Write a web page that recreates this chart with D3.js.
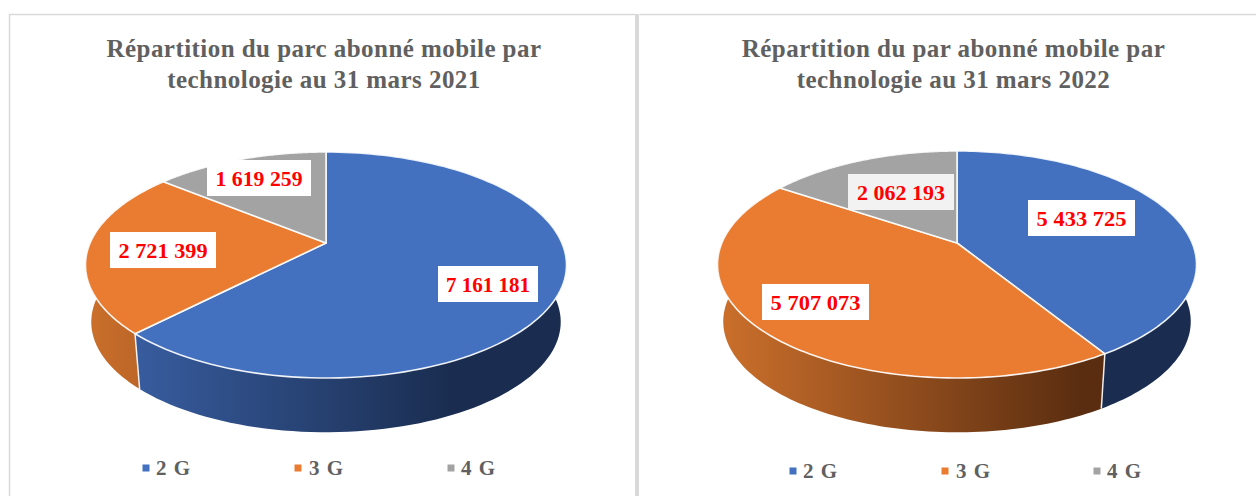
<!DOCTYPE html>
<html>
<head>
<meta charset="utf-8">
<script src="https://cdn.jsdelivr.net/npm/d3@7"></script>
<style>
html,body{margin:0;padding:0;background:#fff;overflow:hidden}
svg{display:block}
text{font-family:"Liberation Serif",serif;font-weight:700}
</style>
</head>
<body>
<svg id="c" width="1256" height="496"></svg>
<script>
const categories = ["2 G", "3 G", "4 G"];
const values2021 = [7161181, 2721399, 1619259];
const values2022 = [5433725, 5707073, 2062193];
const labels2021 = ["7 161 181", "2 721 399", "1 619 259"];
const labels2022 = ["5 433 725", "5 707 073", "2 062 193"];
const titles2021 = ["Répartition du parc abonné mobile par", "technologie au 31 mars 2021"];
const titles2022 = ["Répartition du par abonné mobile par", "technologie au 31 mars 2022"];
const colors = ["#4371c0", "#ea7c31", "#a3a3a3"];
const wallLight = ["#3b62a8", "#c96e2b", "#8f8f8f"];
const wallDark = ["#1a2d50", "#5a2d10", "#444444"];

const layouts = [
  {id:"a", values:values2021, labels:labels2021, titles:titles2021, cx:326, apexY:243, top:152, bottom:378, rx:240.5,
   titleX:324, titleY:[57,88],
   labelPos:[[488,284],[163,250],[259,178]], boxW:[100,106,104], textW:[84,89,87], boxFill:["#fff","#fff","#fff"],
   legendY:468, legendSwatch:[146,298,451], legendText:[156,309,461]},
  {id:"b", values:values2022, labels:labels2022, titles:titles2022, cx:957, apexY:243, top:151, bottom:378, rx:239.5,
   titleX:953.5, titleY:[57,88],
   labelPos:[[1081.5,218],[815.5,302],[901,192]], boxW:[107,107,106], textW:[90,90,88], boxFill:["#fff","#fff","#f2f2f2"],
   legendY:471, legendSwatch:[793,945,1097], legendText:[803,956,1107]}
];
const depth = 57.5, wallScale = 0.976;

const svg = d3.select("#c");
const defs = svg.append("defs");

// panels
svg.append("path").attr("d","M9.5 496V14.5H635").attr("fill","none").attr("stroke","#d9d9d9").attr("stroke-width",1.5);
svg.append("path").attr("d","M639.5 14.5H1256").attr("fill","none").attr("stroke","#d9d9d9").attr("stroke-width",1.5);
svg.append("rect").attr("x",635).attr("y",14).attr("width",4).attr("height",482).attr("fill","#d9d9d9");

const pie = d3.pie().sort(null);
const line = d3.line();

layouts.forEach(L => {
  const g = svg.append("g");
  // Perspective projection of a flat disc onto an off-centre ellipse
  const up = L.apexY - L.top, down = L.bottom - L.apexY;
  const c = (up - down) / (up + down);
  const a = up * (1 - c);
  const R = L.rx * Math.sqrt(1 - c * c);
  const project = angle => {
    const u = Math.sin(angle), v = -Math.cos(angle);
    const w = 1 + c * v;
    return [R * u / w, a * v / w];
  };
  const topPt = t => { const p = project(t); return [L.cx + p[0], L.apexY + p[1]]; };
  const lowPt = t => { const p = project(t); return [L.cx + wallScale * p[0], L.apexY + depth + wallScale * p[1]]; };
  const samples = (s, e) => d3.range(0, 121).map(i => s + (e - s) * i / 120);

  const arcs = pie(L.values);

  // gradients for walls
  arcs.forEach((d, i) => {
    const gr = defs.append("linearGradient").attr("id", `w${L.id}${i}`)
      .attr("gradientUnits","userSpaceOnUse")
      .attr("x1", L.cx - L.rx).attr("x2", L.cx + L.rx).attr("y1",0).attr("y2",0);
    gr.append("stop").attr("offset",0.02).attr("stop-color", wallLight[i]);
    gr.append("stop").attr("offset",0.76).attr("stop-color", wallDark[i]);
  });

  // walls
  arcs.forEach((d, i) => {
    const ts = samples(d.startAngle, d.endAngle);
    const poly = ts.map(t => topPt(t)).concat(ts.slice().reverse().map(t => lowPt(t)));
    g.append("path").attr("d", line(poly) + "Z").attr("fill", `url(#w${L.id}${i})`);
  });
  // seams on the visible wall
  arcs.forEach(d => {
    const t = d.startAngle;
    if (Math.cos(t) < 0) g.append("path").attr("d", line([topPt(t), lowPt(t)]))
      .attr("stroke","#fff").attr("stroke-width",1.5).attr("opacity",0.9);
  });

  // top slices
  arcs.forEach((d, i) => {
    const poly = [[L.cx, L.apexY]].concat(samples(d.startAngle, d.endAngle).map(t => topPt(t)));
    g.append("path").attr("d", line(poly) + "Z")
      .attr("fill", colors[i]).attr("stroke","#fff").attr("stroke-opacity",0.9)
      .attr("stroke-width",1.6).attr("stroke-linejoin","round");
  });

  // labels
  L.labels.forEach((t, i) => {
    const [x, y] = L.labelPos[i];
    g.append("rect").attr("x", x - L.boxW[i] / 2).attr("y", y - 18).attr("width", L.boxW[i]).attr("height", 36).attr("fill", L.boxFill[i]);
    g.append("text").attr("x", x).attr("y", y + 8).attr("text-anchor","middle")
      .attr("font-size",22).attr("fill","#ff0000")
      .attr("textLength", L.textW[i]).attr("lengthAdjust","spacingAndGlyphs").text(t);
  });

  // title
  L.titles.forEach((t, i) => {
    g.append("text").attr("x", L.titleX).attr("y", L.titleY[i]).attr("text-anchor","middle")
      .attr("font-size",25).attr("letter-spacing",0.45).attr("fill","#606060").text(t);
  });

  // legend
  categories.forEach((t, i) => {
    g.append("rect").attr("x", L.legendSwatch[i] - 3.5).attr("y", L.legendY - 3.5).attr("width",7).attr("height",7).attr("fill",colors[i]);
    g.append("text").attr("x", L.legendText[i]).attr("y", L.legendY + 7).attr("font-size",21)
      .attr("letter-spacing",1).attr("fill","#606060").text(t);
  });
});
</script>
</body>
</html>
